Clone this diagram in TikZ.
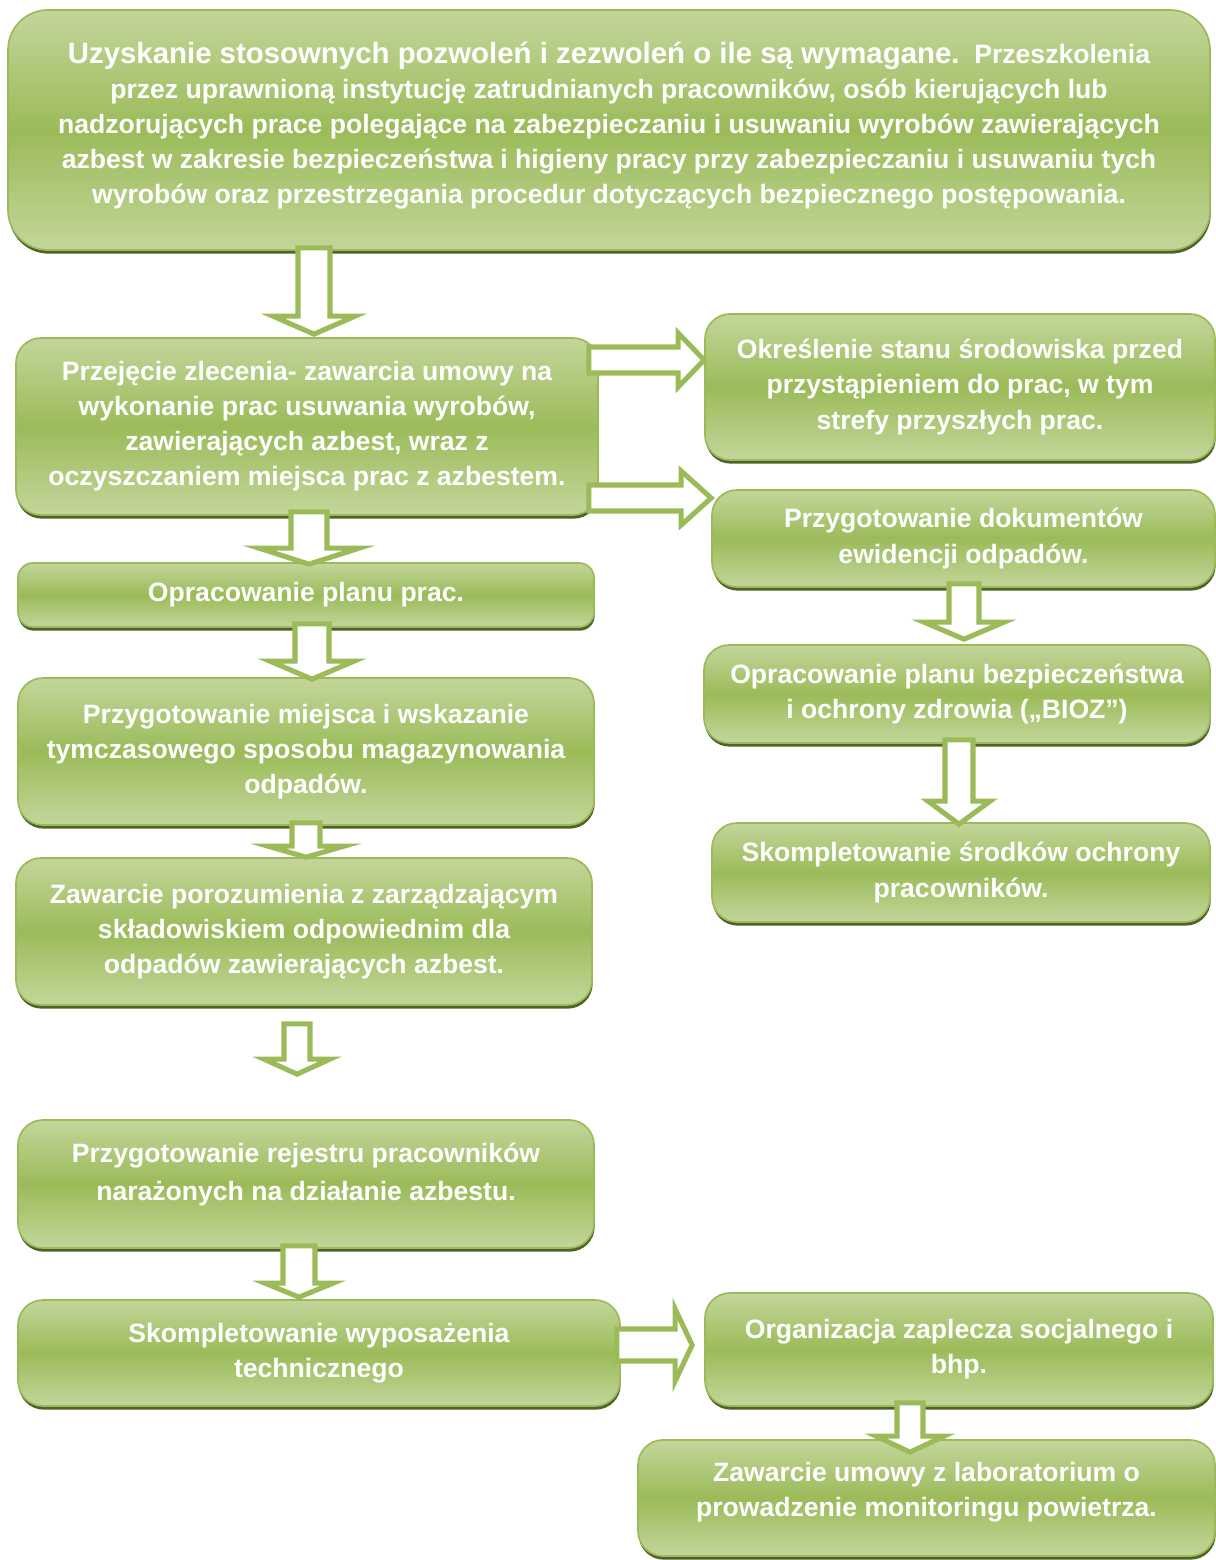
\documentclass[tikz,border=0pt]{standalone}
\usepackage{fontspec}
\setmainfont{Liberation Sans}
\usetikzlibrary{calc,shadows}

\definecolor{boxlight}{HTML}{C3D69B}
\definecolor{boxmid}{HTML}{9BBB59}
\definecolor{boxshadow}{HTML}{4F6228}

\newlength{\pxunit}
\setlength{\pxunit}{0.025cm}

% block arrows between two boxes
\newcommand{\arrowdown}[6]{%
	\draw[flowarrow] let \p1=(#2), \p2=(#3) in
		(#1\pxunit-#4\pxunit,\y1) -- (#1\pxunit+#4\pxunit,\y1) -- (#1\pxunit+#4\pxunit,\y2+#6\pxunit)
		-- (#1\pxunit+#5\pxunit,\y2+#6\pxunit) -- (#1\pxunit,\y2) -- (#1\pxunit-#5\pxunit,\y2+#6\pxunit)
		-- (#1\pxunit-#4\pxunit,\y2+#6\pxunit) -- cycle;}
\newcommand{\arrowright}[6]{%
	\draw[flowarrow] let \p1=(#2), \p2=(#3) in
		(\x1,-#1\pxunit+#4\pxunit) -- (\x2-#6\pxunit,-#1\pxunit+#4\pxunit) -- (\x2-#6\pxunit,-#1\pxunit+#5\pxunit)
		-- (\x2,-#1\pxunit) -- (\x2-#6\pxunit,-#1\pxunit-#5\pxunit) -- (\x2-#6\pxunit,-#1\pxunit-#4\pxunit)
		-- (\x1,-#1\pxunit-#4\pxunit) -- cycle;}

\begin{document}
\begin{tikzpicture}[x=0.025cm, y=-0.025cm,
		stepbox/.style={rectangle, rounded corners=25\pxunit, draw=boxmid, line width=1.2pt,
			top color=boxlight, bottom color=boxlight, middle color=boxmid,
			drop shadow={shadow xshift=0.5pt, shadow yshift=-2.6pt, fill=boxshadow, opacity=1},
			text=white, align=center, inner sep=0pt,
			font=\bfseries\fontsize{18.9}{24.9}\selectfont},
		flowarrow/.style={draw=boxmid, fill=white, line width=3.6pt, line join=miter}]

		\useasboundingbox (0,0) rectangle (1216,1560);
		\clip (0,0) rectangle (1216,1560);

		% left column
		\node[stepbox, rounded corners=40\pxunit, minimum width=1202\pxunit, minimum height=240\pxunit, text depth=11pt] (permits) at (609,130)
			{{\fontsize{20.9}{27}\selectfont Uzyskanie stosownych pozwoleń i zezwoleń o ile są wymagane.}\ \ Przeszkolenia\\
			 przez uprawnioną instytucję zatrudnianych pracowników, osób kierujących lub\\
			 nadzorujących prace polegające na zabezpieczaniu i usuwaniu wyrobów zawierających\\
			 azbest w zakresie bezpieczeństwa i higieny pracy przy zabezpieczaniu i usuwaniu tych\\
			 wyrobów oraz przestrzegania procedur dotyczących bezpiecznego postępowania.};

		\node[stepbox, minimum width=582\pxunit, minimum height=177\pxunit] (order) at (307,426.5)
			{Przejęcie zlecenia- zawarcia umowy na\\ wykonanie prac usuwania wyrobów,\\ zawierających azbest, wraz z\\ oczyszczaniem miejsca prac z azbestem.};
		\node[stepbox, rounded corners=15\pxunit, minimum width=576\pxunit, minimum height=64\pxunit] (workplan) at (306,595)
			{Opracowanie planu prac.};
		\node[stepbox, minimum width=576\pxunit, minimum height=147\pxunit] (storage) at (306,751.5)
			{Przygotowanie miejsca i wskazanie\\ tymczasowego sposobu magazynowania\\ odpadów.};
		\node[stepbox, minimum width=576\pxunit, minimum height=147\pxunit] (landfill) at (304,931.5)
			{Zawarcie porozumienia z zarządzającym\\ składowiskiem odpowiednim dla\\ odpadów zawierających azbest.};
		\node[stepbox, minimum width=576\pxunit, minimum height=128\pxunit, text depth=18pt] (register) at (306,1184)
			{Przygotowanie rejestru pracowników\\[3\pxunit] narażonych na działanie azbestu.};
		\node[stepbox, minimum width=602\pxunit, minimum height=106\pxunit] (equipment) at (319,1353)
			{Skompletowanie wyposażenia\\ technicznego};

		% right column
		\node[stepbox, minimum width=510\pxunit, minimum height=146\pxunit] (survey) at (960,387)
			{Określenie stanu środowiska przed\\ przystąpieniem do prac, w tym\\ strefy przyszłych prac.};
		\node[stepbox, minimum width=503\pxunit, minimum height=97\pxunit] (records) at (963.5,538.5)
			{Przygotowanie dokumentów\\ ewidencji odpadów.};
		\node[stepbox, minimum width=506\pxunit, minimum height=98\pxunit] (bioz) at (957,694)
			{Opracowanie planu bezpieczeństwa\\ i ochrony zdrowia („BIOZ”)};
		\node[stepbox, minimum width=498\pxunit, minimum height=99\pxunit] (protection) at (961,872.5)
			{Skompletowanie środków ochrony\\ pracowników.};
		\node[stepbox, minimum width=508\pxunit, minimum height=113\pxunit] (facilities) at (959,1349.5)
			{Organizacja zaplecza socjalnego i\\ bhp.};
		\node[stepbox, minimum width=577\pxunit, minimum height=116\pxunit, text depth=12pt] (monitoring) at (926.5,1498)
			{Zawarcie umowy z laboratorium o\\ prowadzenie monitoringu powietrza.};

		% arrows
		\arrowdown{314}{[yshift=3\pxunit]permits.south}{[yshift=3\pxunit]order.north}{16}{41}{18}
		\arrowdown{309}{[yshift=4\pxunit]order.south}{[yshift=-2\pxunit]workplan.north}{18}{50}{16}
		\arrowdown{312}{[yshift=4\pxunit]workplan.south}{[yshift=-2\pxunit]storage.north}{17}{42}{18}
		\arrowdown{306}{[yshift=3\pxunit]storage.south}{[yshift=0\pxunit]landfill.north}{14}{38}{11}
		\arrowdown{297}{[yshift=-18\pxunit]landfill.south}{[yshift=45\pxunit]register.north}{13}{33}{15}
		\arrowdown{299}{[yshift=3\pxunit]register.south}{[yshift=2\pxunit]equipment.north}{16}{34}{14}

		\arrowright{360}{[xshift=-10\pxunit]order.east}{[xshift=0\pxunit]survey.west}{13}{27}{26}
		\arrowright{498}{[xshift=-10\pxunit]order.east}{[xshift=0\pxunit]records.west}{13}{27}{30}
		\arrowright{1345}{[xshift=-4\pxunit]equipment.east}{[xshift=-12\pxunit]facilities.west}{16}{36}{17}

		\arrowdown{964}{[yshift=4\pxunit]records.south}{[yshift=5\pxunit]bioz.north}{15}{40}{17}
		\arrowdown{959}{[yshift=4\pxunit]bioz.south}{[yshift=-2\pxunit]protection.north}{14}{31}{23}
		\arrowdown{910}{[yshift=4\pxunit]facilities.south}{[yshift=-13\pxunit]monitoring.north}{13}{34}{16}

\end{tikzpicture}
\end{document}
